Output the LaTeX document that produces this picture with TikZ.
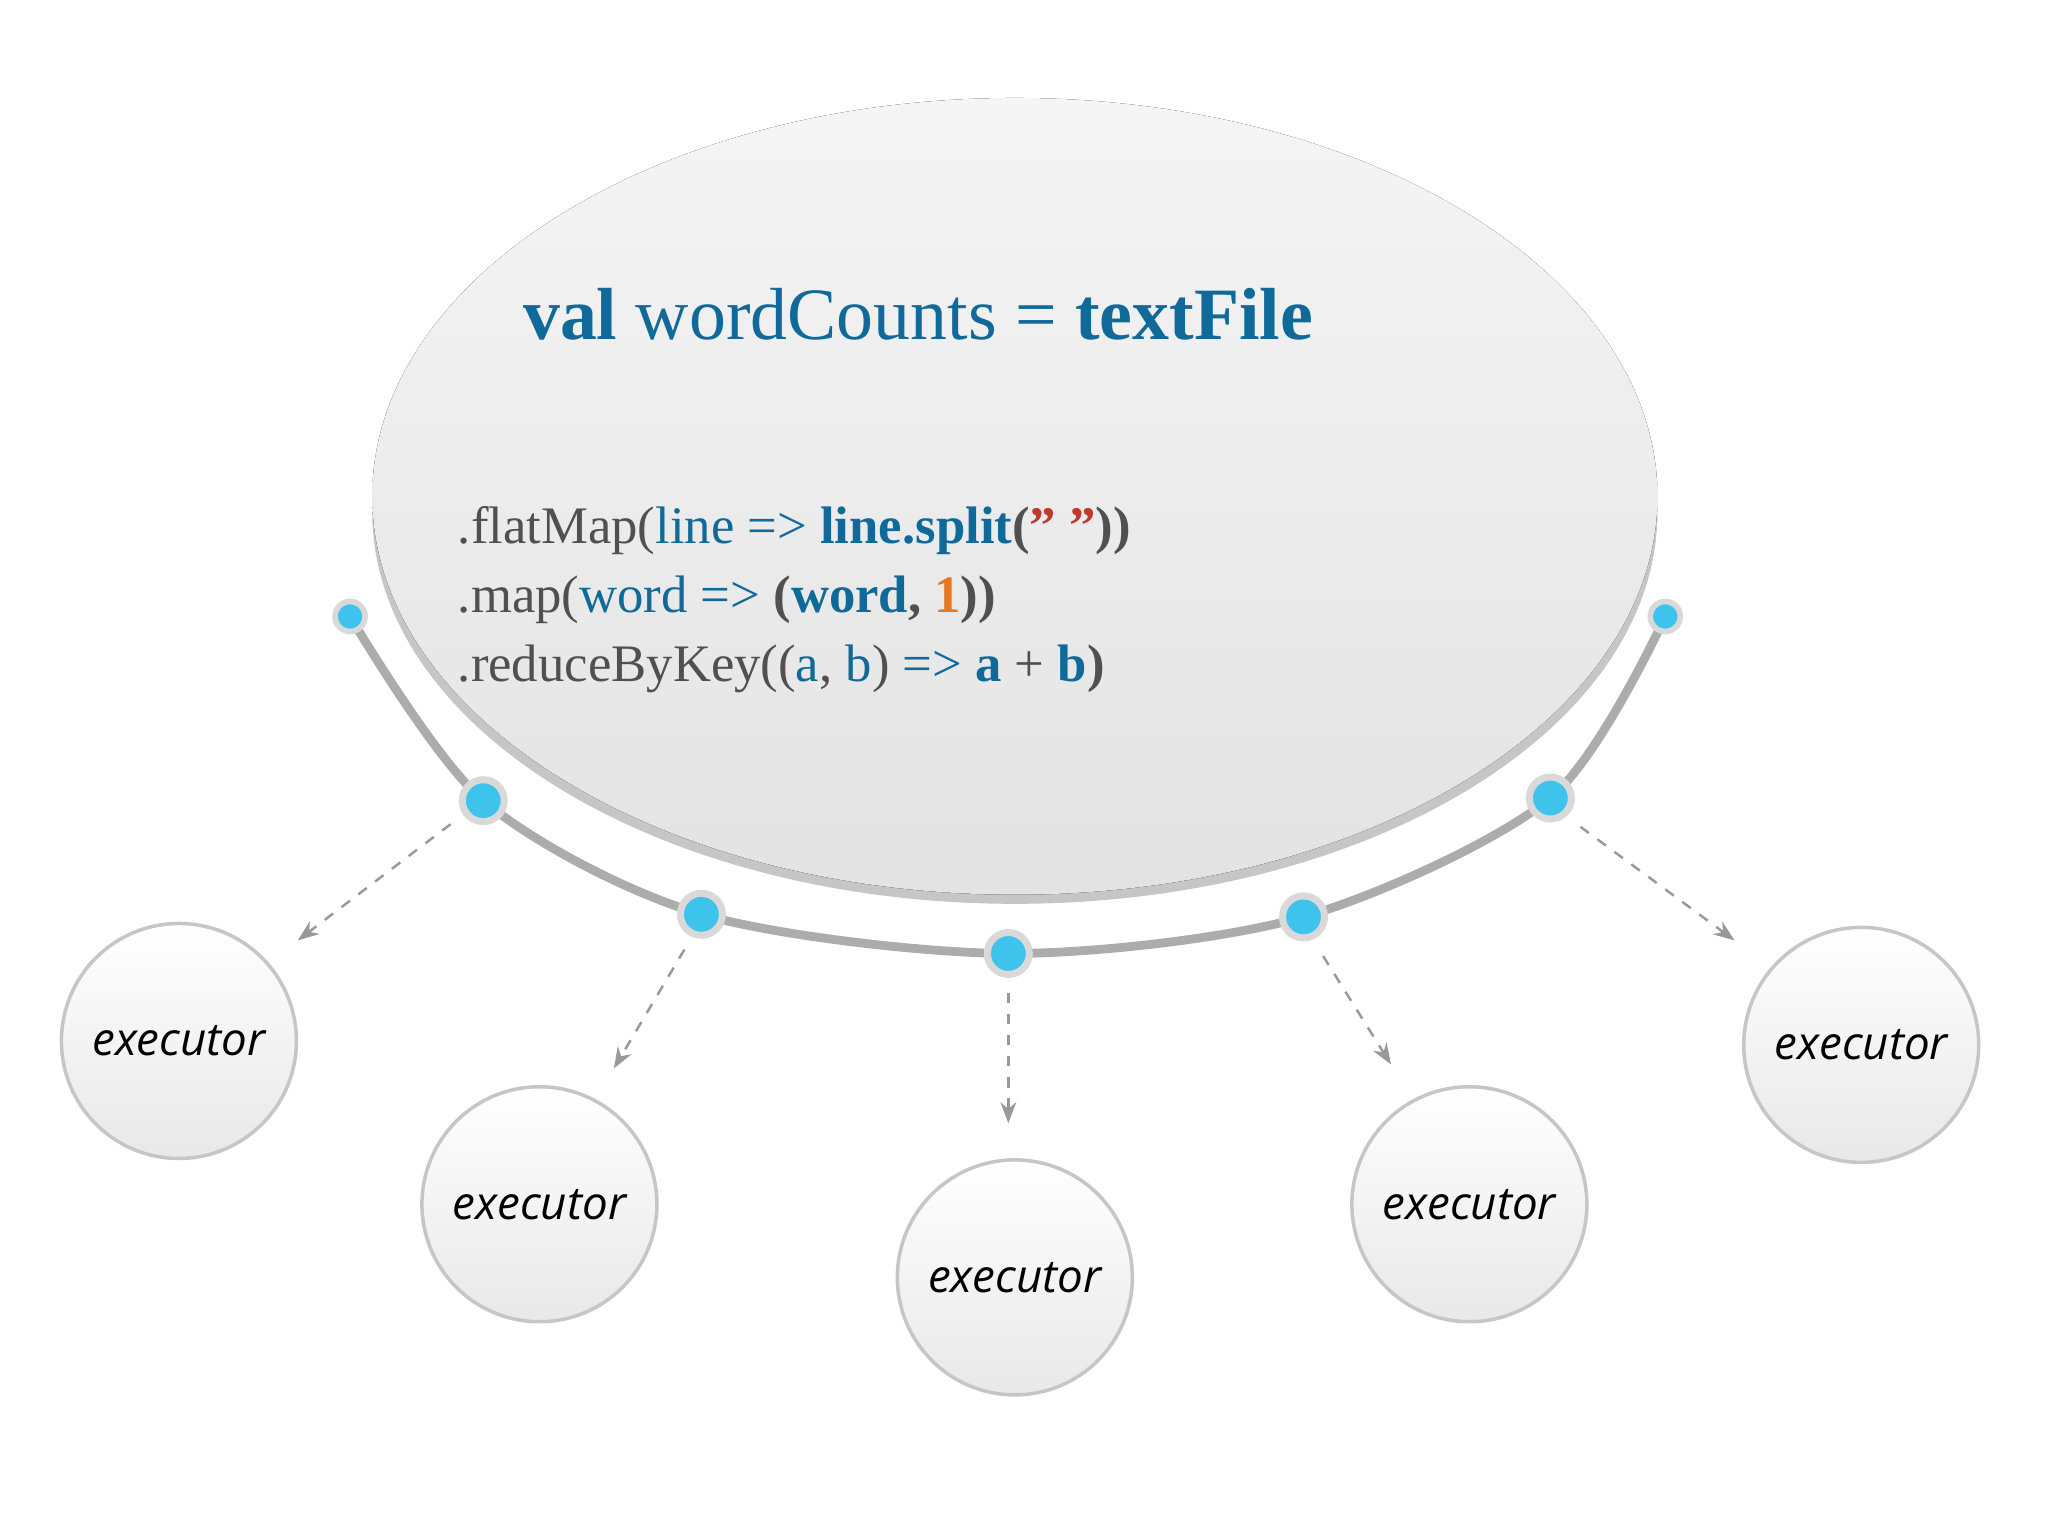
\documentclass[tikz,border=0pt]{standalone}
\usepackage{fontspec}
\setmainfont{Liberation Serif}
\newfontfamily\exfont{Open Sans}
\usetikzlibrary{arrows.meta}
\definecolor{cblue}{HTML}{0F6A9A}
\definecolor{cgray}{HTML}{505050}
\definecolor{cred}{HTML}{C0392B}
\definecolor{corange}{HTML}{E87722}
\definecolor{dotc}{HTML}{3EC3EC}
\tikzset{
 execnode/.style={circle,minimum size=2.35cm,inner sep=0pt,draw=gray!45,line width=1pt,top color=white,bottom color=gray!18,font=\exfont\itshape\fontsize{13}{13}\selectfont},
 bigdot/.style={circle,minimum size=0.42cm,inner sep=0pt,fill=dotc,draw=gray!30!white,line width=2pt},
 smalldot/.style={circle,minimum size=0.3cm,inner sep=0pt,fill=dotc,draw=gray!30!white,line width=1.6pt},
 dasharrow/.style={draw=gray!80,dashed,line width=0.7pt,-{Stealth[length=6pt]}},
 codeline/.style={anchor=base west,inner sep=0pt,font=\fontsize{15}{15}\selectfont,text=cgray}
}
\begin{document}
\begin{tikzpicture}[x=0.01306cm,y=-0.01306cm]
\useasboundingbox (0,0) rectangle (1568,1176);
% big ellipse with rim
\fill[gray!45] (777,392) ellipse [x radius=492,y radius=300];
\fill[top color=gray!8,bottom color=gray!22] (777,380) ellipse [x radius=492,y radius=305];
% arc
\draw[gray!65,line width=2.5pt] plot[smooth] coordinates {(268,472) (370,613) (537,700) (772,730) (998,702) (1187,611) (1275,472)};
\node[smalldot] (d0) at (268,472) {};
\node[bigdot] (d1) at (370,613) {};
\node[bigdot] (d2) at (537,700) {};
\node[bigdot] (d3) at (772,730) {};
\node[bigdot] (d4) at (998,702) {};
\node[bigdot] (d5) at (1187,611) {};
\node[smalldot] (d6) at (1275,472) {};
% executors
\node[execnode] (e1) at (137,797) {executor};
\node[execnode] (e2) at (413,922) {executor};
\node[execnode] (e3) at (777,978) {executor};
\node[execnode] (e4) at (1125,922) {executor};
\node[execnode] (e5) at (1425,800) {executor};
% arrows
\coordinate (a1) at (228,720); \coordinate (a2) at (470,818); \coordinate (a3) at (772,860);
\coordinate (a4) at (1065,815); \coordinate (a5) at (1328,720);
\draw[dasharrow] ([shift={(-25,18)}]d1.center) -- (a1);
\draw[dasharrow] ([shift={(-13,27)}]d2.center) -- (a2);
\draw[dasharrow] ([shift={(0,30)}]d3.center) -- (a3);
\draw[dasharrow] ([shift={(15,30)}]d4.center) -- (a4);
\draw[dasharrow] ([shift={(23,22)}]d5.center) -- (a5);
% text
\node[anchor=base west,inner sep=0pt,text=cblue,font=\fontsize{21}{21}\selectfont] (t0) at (400,260) {\textbf{val} wordCounts = \textbf{textFile}};
\node[codeline] (t1) at (350,416) {.flatMap(\textcolor{cblue}{line =>} \textcolor{cblue}{\textbf{line.split}}\textbf{(}\textcolor{cred}{\textbf{" "}}\textbf{))}};
\node[codeline] (t2) at (350,469) {.map(\textcolor{cblue}{word =>} \textbf{(}\textcolor{cblue}{\textbf{word}}\textbf{, }\textcolor{corange}{\textbf{1}}\textbf{))}};
\node[codeline] (t3) at (350,522) {.reduceByKey((\textcolor{cblue}{a}, \textcolor{cblue}{b}) \textcolor{cblue}{=>} \textcolor{cblue}{\textbf{a}} + \textcolor{cblue}{\textbf{b}}\textbf{)}};
\end{tikzpicture}
\end{document}
